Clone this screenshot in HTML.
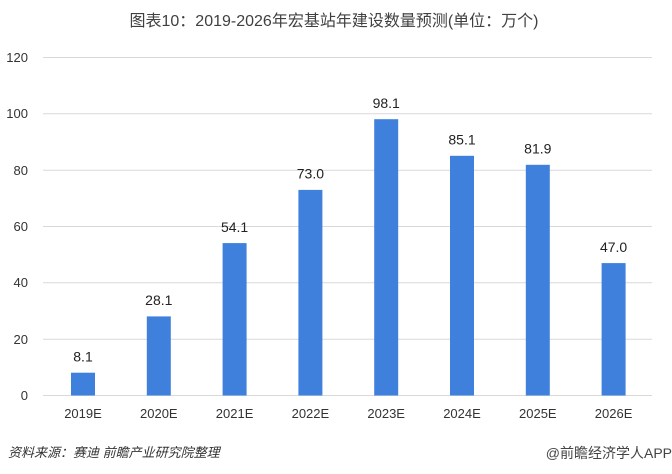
<!DOCTYPE html>
<html><head><meta charset="utf-8"><style>
html,body{margin:0;padding:0;background:#fff;}
svg{display:block;}
text{font-family:"Liberation Sans","Noto Sans CJK SC",sans-serif;}
</style></head><body>
<svg width="672" height="474" viewBox="0 0 672 474" xmlns="http://www.w3.org/2000/svg">
<rect width="672" height="474" fill="#fff"/>
<text x="334" y="26" font-size="16" fill="#404040" text-anchor="middle">图表10：2019-2026年宏基站年建设数量预测(单位：万个)</text>
<g stroke="#d9d9d9" stroke-width="1">
<line x1="43" x2="652" y1="57.5" y2="57.5"/>
<line x1="43" x2="652" y1="113.8" y2="113.8"/>
<line x1="43" x2="652" y1="170.2" y2="170.2"/>
<line x1="43" x2="652" y1="226.5" y2="226.5"/>
<line x1="43" x2="652" y1="282.8" y2="282.8"/>
<line x1="43" x2="652" y1="339.2" y2="339.2"/>
<line x1="43" x2="652" y1="395.5" y2="395.5"/>
</g>
<g font-size="13" fill="#333" text-anchor="end">
<text x="28" y="62">120</text>
<text x="28" y="118">100</text>
<text x="28" y="175">80</text>
<text x="28" y="231">60</text>
<text x="28" y="287">40</text>
<text x="28" y="344">20</text>
<text x="28" y="400">0</text>
</g>
<g fill="#3f80dd">
<rect x="71" y="372.7" width="24" height="22.8"/>
<rect x="146.8" y="316.4" width="24" height="79.1"/>
<rect x="222.6" y="243.1" width="24" height="152.4"/>
<rect x="298.4" y="189.9" width="24" height="205.6"/>
<rect x="374.2" y="119.2" width="24" height="276.3"/>
<rect x="450" y="155.8" width="24" height="239.7"/>
<rect x="525.8" y="164.8" width="24" height="230.7"/>
<rect x="601.6" y="263.1" width="24" height="132.4"/>
</g>
<g font-size="14" fill="#222" text-anchor="middle">
<text x="83" y="361.5">8.1</text>
<text x="158.8" y="305.2">28.1</text>
<text x="234.6" y="231.9">54.1</text>
<text x="310.4" y="178.7">73.0</text>
<text x="386.2" y="108">98.1</text>
<text x="462" y="144.6">85.1</text>
<text x="537.8" y="153.6">81.9</text>
<text x="613.6" y="251.9">47.0</text>
</g>
<g font-size="13" fill="#333" text-anchor="middle">
<text x="83" y="418">2019E</text>
<text x="158.8" y="418">2020E</text>
<text x="234.6" y="418">2021E</text>
<text x="310.4" y="418">2022E</text>
<text x="386.2" y="418">2023E</text>
<text x="462" y="418">2024E</text>
<text x="537.8" y="418">2025E</text>
<text x="613.6" y="418">2026E</text>
</g>
<text x="8" y="457" font-size="13" fill="#333" font-style="italic">资料来源：赛迪 前瞻产业研究院整理</text>
<text x="672" y="458" font-size="14" fill="#444" text-anchor="end">@前瞻经济学人APP</text>
</svg>
</body></html>
